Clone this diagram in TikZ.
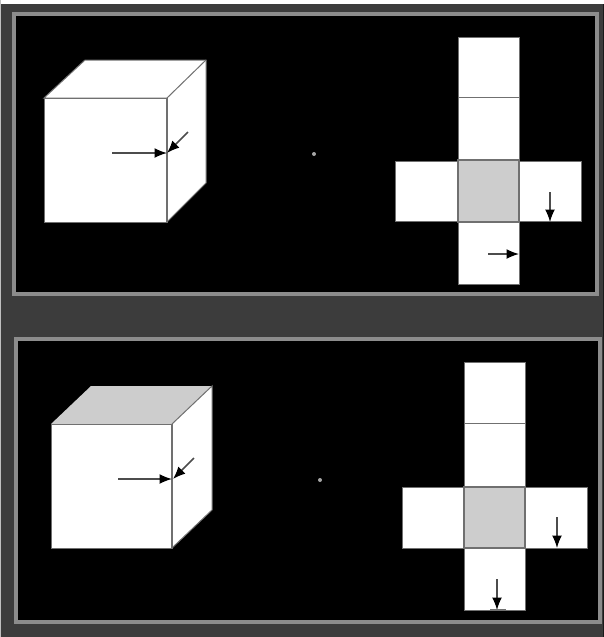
\documentclass[tikz,border=0pt]{standalone}
\usetikzlibrary{arrows.meta}
\definecolor{backdrop}{HTML}{3C3C3C}
\definecolor{framegray}{HTML}{8C8C8C}
\definecolor{facegray}{HTML}{CDCDCD}
\definecolor{edgegray}{HTML}{707070}
\tikzset{
  panel/.style={draw=framegray, line width=0.065cm, fill=black},
  face/.style={fill=white, draw=edgegray, line width=0.02cm},
  shaded face/.style={fill=facegray, draw=edgegray, line width=0.03cm},
  marker/.style={-{Latex[length=0.25cm,width=0.2cm,color=black]}, black!70, line width=0.03cm},
  centre dot/.style={circle, fill=black!35, inner sep=0pt, minimum size=0.08cm}
}
\begin{document}
\begin{tikzpicture}[x=0.02cm,y=-0.02cm]
\useasboundingbox (0,0) rectangle (604,637);
\fill[backdrop] (0,0) rectangle (604,637);
\fill[white] (0,0) rectangle (604,3.5);
\fill[black!25] (0,0) rectangle (1.5,637);
\fill[black!90] (602.5,4) rectangle (604,637);

% upper panel
\draw[panel] (14,14) rectangle (597,294);
\draw[face] (44,98) -- (85,60) -- (206,60) -- (206,183) -- (167,222) -- (167,98) -- cycle;
\draw[face] (44,98) rectangle (167,222);
\draw[edgegray, line width=0.02cm] (167,98) -- (206,60);
\draw[edgegray, line width=0.035cm] (167,98) -- (167,222);
\coordinate (frontA) at (112,153);
\coordinate (edgeA) at (167,153);
\coordinate (sideA) at (188,132);
\coordinate (edgeB) at (167,153);
\draw[marker] (frontA) -- (edgeA);
\draw[marker] (sideA) -- (edgeB);
\node[centre dot] (dotA) at (314,154) {};

\draw[face] (458,37) rectangle (519,97);
\draw[face] (458,97) rectangle (519,160);
\draw[face] (395,161) rectangle (458,221);
\draw[face] (519,161) rectangle (581,221);
\draw[face] (458,222) rectangle (519,284);
\draw[shaded face] (458,160) rectangle (519,222);
\coordinate (rightA) at (550,192);
\coordinate (rightB) at (550,222);
\coordinate (lowA) at (488,254);
\coordinate (lowB) at (519,254);
\draw[marker] (rightA) -- (rightB);
\draw[marker] (lowA) -- (lowB);

% lower panel
\draw[panel] (16,339) rectangle (600,622);
\draw[shaded face, draw=none] (51,424) -- (91,386) -- (212,386) -- (172,424) -- cycle;
\draw[face] (172,424) -- (212,386) -- (212,510) -- (172,548) -- cycle;
\draw[face] (51,424) rectangle (172,548);
\draw[edgegray, line width=0.03cm] (172,424) -- (172,548);
\coordinate (frontC) at (118,479);
\coordinate (edgeC) at (172,479);
\coordinate (sideC) at (194,458);
\coordinate (edgeD) at (173,479);
\draw[marker] (frontC) -- (edgeC);
\draw[marker] (sideC) -- (edgeD);
\node[centre dot] (dotB) at (320,480) {};

\draw[face] (464,362) rectangle (525,423);
\draw[face] (464,423) rectangle (525,487);
\draw[face] (402,487) rectangle (464,548);
\draw[face] (525,487) rectangle (587,548);
\draw[face] (464,548) rectangle (525,610);
\draw[shaded face] (464,487) rectangle (525,548);
\coordinate (rightC) at (557,517);
\coordinate (rightD) at (557,548);
\coordinate (lowC) at (497,579);
\coordinate (lowD) at (497,610);
\draw[marker] (rightC) -- (rightD);
\draw[marker] (lowC) -- (lowD);
\draw[edgegray, line width=0.02cm] (490,609) -- (506,609);
\end{tikzpicture}
\end{document}
